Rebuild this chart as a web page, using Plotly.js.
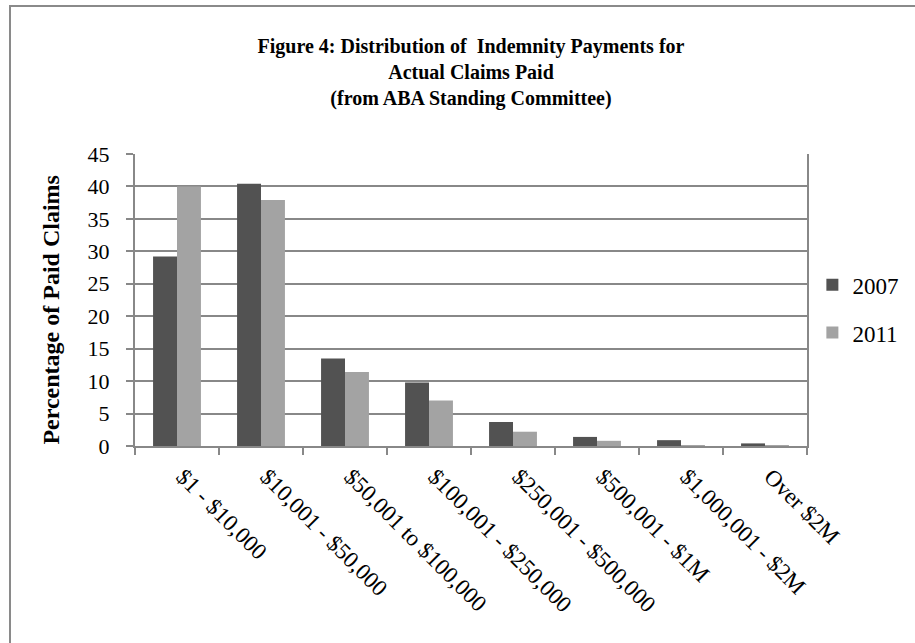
<!DOCTYPE html>
<html>
<head>
<meta charset="utf-8">
<script src="https://cdn.plot.ly/plotly-3.0.1.min.js"></script>
<style>
  html, body { margin: 0; padding: 0; background: #ffffff; }
  #wrap { position: relative; width: 915px; height: 643px; overflow: hidden; }
  #chart { position: absolute; left: 0; top: 0; width: 915px; height: 643px; }
  #frame { position: absolute; left: 9px; top: 5px; width: 920px; height: 650px;
           border-left: 2px solid #8a8a8a; border-top: 2px solid #8a8a8a; pointer-events: none; }
</style>
</head>
<body>
<div id="wrap">
  <div id="chart"></div>
  <div id="frame"></div>
</div>
<script>
const categories = [
  "$1 - $10,000",
  "$10,001 - $50,000",
  "$50,001 to $100,000",
  "$100,001 - $250,000",
  "$250,001 - $500,000",
  "$500,001 - $1M",
  "$1,000,001 - $2M",
  "Over $2M"
];
const values2007 = [29.2, 40.4, 13.5, 9.8, 3.7, 1.4, 0.9, 0.4];
const values2011 = [40.0, 37.9, 11.4, 7.0, 2.2, 0.8, 0.15, 0.15];
const seriesNames = ["2007", "2011"];
const yTicks = [0, 5, 10, 15, 20, 25, 30, 35, 40, 45];
const yAxisTitle = "Percentage of Paid Claims";

const serif = "Liberation Serif, Times New Roman, serif";
const gridGray = "#888888";

const traces = [
  {
    type: "bar", name: seriesNames[0], x: categories, y: values2007,
    marker: { color: "#525252", line: { width: 0 } },
    legendgroup: "a"
  },
  {
    type: "bar", name: seriesNames[1], x: categories, y: values2011,
    marker: { color: "#a3a3a3", line: { width: 0 } },
    legendgroup: "b"
  }
];

const layout = {
  width: 915, height: 643,
  paper_bgcolor: "rgba(0,0,0,0)", plot_bgcolor: "#ffffff",
  margin: { l: 135, r: 97, t: 154, b: 197 },
  barmode: "group",
  bargap: 0.43,
  bargroupgap: 0,
  font: { family: serif, color: "#000000", size: 22 },
  title: {
    text: "<b>Figure 4: Distribution of  Indemnity Payments for<br>Actual Claims Paid<br>(from ABA Standing Committee)</b>",
    font: { family: serif, size: 20, color: "#000000" },
    x: 0.5, xref: "paper", xanchor: "center",
    y: 0.917, yref: "container", yanchor: "top",
    pad: { t: 0 }
  },
  xaxis: {
    type: "category",
    tickangle: 45,
    tickson: "boundaries",
    ticks: "outside", ticklen: 7, tickcolor: gridGray, tickwidth: 2,
    showline: true, linecolor: gridGray, linewidth: 2,
    showgrid: false,
    tickfont: { family: serif, size: 23, color: "#000000" },
    ticklabelstandoff: 6,
    ticklabelshift: 6
  },
  yaxis: {
    range: [0, 45],
    tickvals: yTicks,
    ticktext: yTicks.map(String),
    ticks: "outside", ticklen: 7, tickcolor: gridGray, tickwidth: 2,
    showline: true, linecolor: gridGray, linewidth: 2, mirror: true,
    showgrid: true, gridcolor: gridGray, gridwidth: 2,
    zeroline: false,
    tickfont: { family: serif, size: 22, color: "#000000" },
    ticklabelstandoff: 12
  },
  annotations: [
    {
      text: "<b>" + yAxisTitle + "</b>",
      textangle: -90,
      xref: "paper", yref: "paper",
      x: -0.1255, y: 0.466,
      xanchor: "center", yanchor: "middle",
      showarrow: false,
      font: { family: serif, size: 24, color: "#000000" }
    }
  ],
  legend: {
    x: 1.008, xanchor: "left",
    y: 0.47, yanchor: "middle",
    traceorder: "grouped",
    tracegroupgap: 15,
    font: { family: serif, size: 23, color: "#000000" },
    bgcolor: "rgba(0,0,0,0)",
    itemwidth: 30
  },
  showlegend: true
};

Plotly.newPlot("chart", traces, layout, { displayModeBar: false, staticPlot: true });
</script>
</body>
</html>
